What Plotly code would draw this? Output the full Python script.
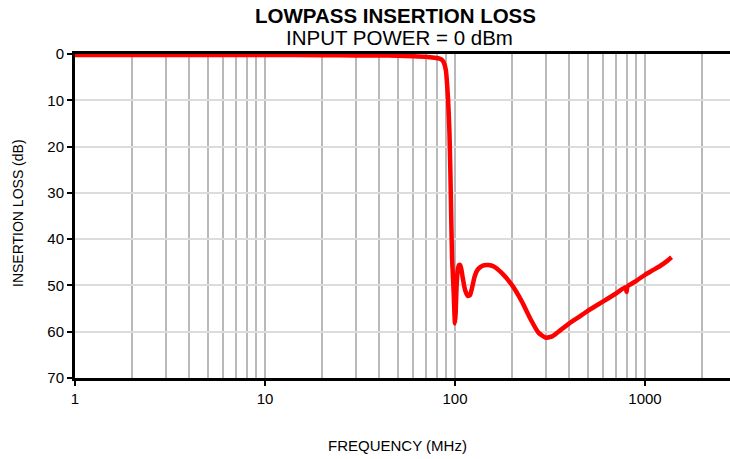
import plotly.graph_objects as go

# ---- data ----
freq_mhz = [1, 2, 5, 10, 20, 30, 40, 50, 60, 70, 78, 83, 86, 88, 89.5, 90.5, 92, 93.5,
            94.5, 95.5, 96.5, 97.5, 98.5, 99.3, 100, 100.8, 102, 103.5, 105, 106.5, 108,
            110, 113, 117, 120, 123, 127, 132, 140, 150, 160, 175, 200, 225, 250, 275,
            300, 325, 350, 400, 450, 500, 600, 700, 790, 800, 810, 900, 1000, 1100,
            1200, 1300, 1380]
loss_db = [0.2, 0.2, 0.2, 0.2, 0.25, 0.3, 0.3, 0.4, 0.5, 0.6, 0.8, 1.0, 1.4, 2.2, 3.5,
           5.5, 10, 17, 25, 35, 44, 48, 52, 56, 58.2, 56, 50, 46.5, 45.6, 45.6, 46.5,
           48.5, 51, 52.3, 52.1, 50.5, 48, 46.5, 45.7, 45.6, 45.9, 47.2, 50.0, 53.5,
           57.3, 60.2, 61.3, 61.0, 60.0, 58.2, 56.8, 55.5, 53.5, 51.8, 50.4, 51.4, 50.2,
           49.0, 47.7, 46.7, 45.8, 44.8, 43.9]

x_major_ticks = [1, 10, 100, 1000]
x_major_labels = ["1", "10", "100", "1000"]
x_minor_ticks = [m * d for d in (1, 10, 100) for m in range(2, 10)] + [2000]
y_ticks = [0, 10, 20, 30, 40, 50, 60, 70]

title_text = "LOWPASS INSERTION LOSS"
subtitle_text = "INPUT POWER = 0 dBm"
x_title = "FREQUENCY (MHz)"
y_title = "INSERTION LOSS (dB)"

FONT = "Liberation Sans, Arial, sans-serif"

fig = go.Figure()
fig.add_trace(go.Scatter(
    x=freq_mhz, y=loss_db, mode="lines",
    line=dict(color="#ff0000", width=4.5, shape="spline", smoothing=0.5),
    hoverinfo="x+y", showlegend=False,
))

fig.update_layout(
    width=730, height=459,
    margin=dict(l=75, r=0, t=54, b=81),
    paper_bgcolor="white", plot_bgcolor="white",
    font=dict(family=FONT, color="black"),
    xaxis=dict(
        type="log", range=[0, 3.4474],
        tickmode="array", tickvals=x_major_ticks, ticktext=x_major_labels,
        ticks="outside", ticklen=5, tickwidth=2, tickcolor="black",
        tickfont=dict(size=15, family=FONT, color="black"),
        showgrid=True, gridcolor="#b9b9b9", gridwidth=2,
        minor=dict(tickmode="array", tickvals=x_minor_ticks, showgrid=True,
                   gridcolor="#b9b9b9", gridwidth=2, ticks=""),
        showline=True, linecolor="black", linewidth=3, mirror=True,
        zeroline=False,
    ),
    yaxis=dict(
        range=[70, 0], tickmode="array", tickvals=y_ticks,
        ticks="outside", ticklen=5, tickwidth=2, tickcolor="black",
        tickfont=dict(size=15, family=FONT, color="black"),
        showgrid=True, gridcolor="#dcdcdc", gridwidth=1.5,
        showline=True, linecolor="black", linewidth=3,
        zeroline=False,
    ),
    annotations=[
        dict(text="<b>" + title_text + "</b>", xref="paper", yref="paper",
             x=0.49, y=(378 - 16) / 324, xanchor="center", yanchor="middle",
             showarrow=False, font=dict(size=20.5, family=FONT, color="black")),
        dict(text=subtitle_text, xref="paper", yref="paper",
             x=0.495, y=(378 - 37) / 324, xanchor="center", yanchor="middle",
             showarrow=False, font=dict(size=20.5, family=FONT, color="black")),
        dict(text=x_title, xref="paper", yref="paper",
             x=(397 - 75) / 655, y=(378 - 445) / 324, xanchor="center", yanchor="middle",
             showarrow=False, font=dict(size=15, family=FONT, color="black")),
        dict(text=y_title, xref="paper", yref="paper",
             x=(18 - 75) / 655, y=(378 - 213) / 324, xanchor="center", yanchor="middle",
             textangle=-90, showarrow=False, font=dict(size=14, family=FONT, color="black")),
    ],
)

fig.write_html("out.html", config={"displayModeBar": False},
               post_script="document.body.style.margin='0';document.body.style.overflow='hidden';")
